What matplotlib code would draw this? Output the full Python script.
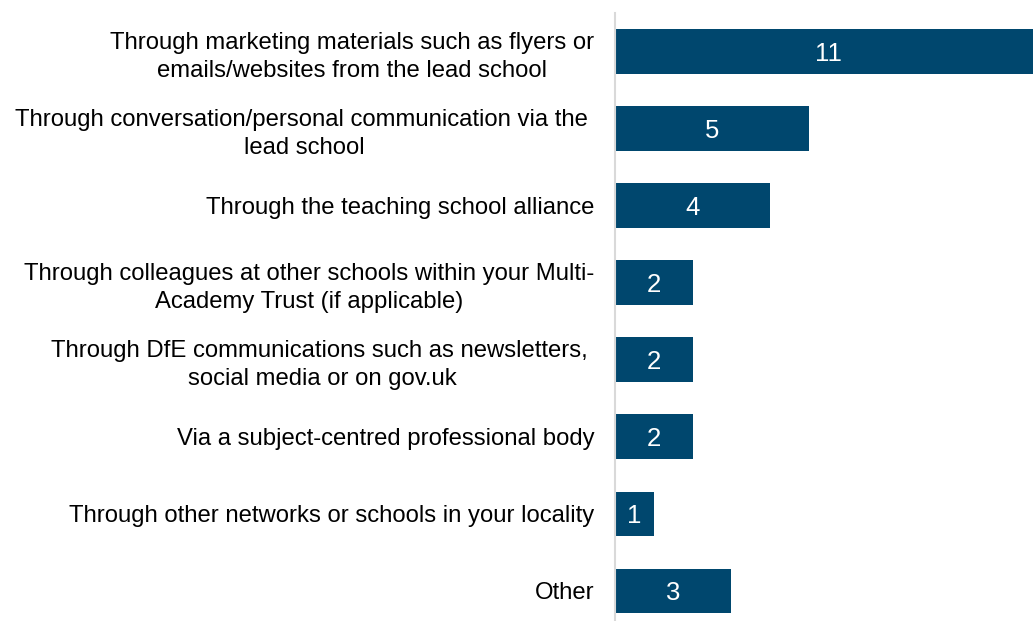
import matplotlib.pyplot as plt

# canales por los que se enteraron del programa
categorias = [
    "Through marketing materials such as flyers or\nemails/websites from the lead school",
    "Through conversation/personal communication via the \nlead school",
    "Through the teaching school alliance",
    "Through colleagues at other schools within your Multi-\nAcademy Trust (if applicable)",
    "Through DfE communications such as newsletters, \nsocial media or on gov.uk",
    "Via a subject-centred professional body",
    "Through other networks or schools in your locality",
    "Other",
]
valores = [11, 5, 4, 2, 2, 2, 1, 3]

color_barra = "#00476E"

plt.rcParams['font.family'] = ['Liberation Sans', 'DejaVu Sans']

fig = plt.figure(figsize=(10.33, 6.21), dpi=100)
ax = fig.add_axes([615 / 1033, 0, 418 / 1033, 1 - 13 / 621])

pos = list(range(len(categorias)))
barras = ax.barh(pos, valores, height=0.58, color=color_barra)

for b, v in zip(barras, valores):
    ax.text(v / 2, b.get_y() + b.get_height() / 2 + 0.03, str(v),
            ha='center', va='center', color='white', fontsize=18.5)

ax.set_xlim(0, 418 / 38.75)
ax.set_ylim(7.39, -0.5)
ax.set_yticks(pos)
ax.set_yticklabels(categorias, fontsize=17.2)
for t in ax.get_yticklabels():
    t.set_multialignment('center')
    t.set_linespacing(1.35)
ax.tick_params(axis='y', length=0, pad=15)
ax.set_xticks([])

for s in ['top', 'right', 'bottom']:
    ax.spines[s].set_visible(False)
ax.spines['left'].set_color('#D9D9D9')
ax.spines['left'].set_linewidth(1.5)

fig.savefig("out.png", dpi=100)
